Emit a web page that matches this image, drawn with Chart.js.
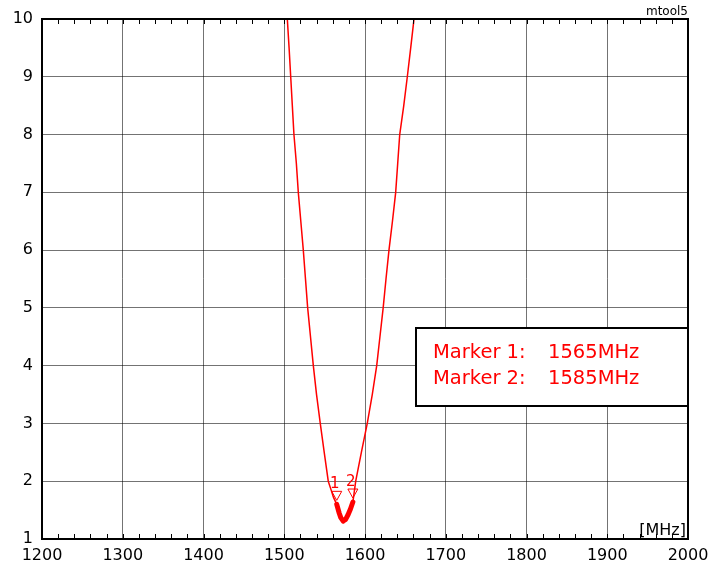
<!DOCTYPE html>
<html><head><meta charset="utf-8">
<script src="https://cdn.jsdelivr.net/npm/chart.js@4/dist/chart.umd.min.js"></script>
<style>html,body{margin:0;padding:0;background:#fff;}#c{display:block;}</style>
</head><body>
<canvas id="c" width="709" height="562"></canvas>
<script>
const freqMHz = [1500, 1503.8, 1506, 1508, 1510, 1512, 1515, 1517.4, 1520.5, 1523.6, 1526.3, 1529, 1532.5, 1536, 1540, 1544.6, 1549.5, 1554.5, 1558, 1561, 1565, 1568, 1570, 1573, 1576, 1579, 1582, 1585, 1588.5, 1595.5, 1602.8, 1609, 1614.5, 1618.5, 1622.5, 1626, 1629.7, 1634, 1638, 1640.5, 1643, 1648, 1652.4, 1656.6, 1660.7, 1664];
const vswr    = [11.0, 10.0, 9.5, 9.0, 8.5, 8.0, 7.5, 7.0, 6.5, 6.0, 5.5, 5.0, 4.5, 4.0, 3.5, 3.0, 2.5, 2.0, 1.85, 1.72, 1.60, 1.45, 1.37, 1.31, 1.34, 1.42, 1.52, 1.64, 2.0, 2.5, 3.0, 3.5, 4.0, 4.5, 5.0, 5.5, 6.0, 6.5, 7.0, 7.5, 8.0, 8.5, 9.0, 9.5, 10.0, 10.6];
const markerFreq = [1565, 1585];
const markerVswr = [1.60, 1.64];
const markerNames = ['1', '2'];
const markerTexts = ['Marker 1:', 'Marker 2:'];
const markerValues = ['1565MHz', '1585MHz'];
const xTicks = [1200, 1300, 1400, 1500, 1600, 1700, 1800, 1900, 2000];
const yTicks = [1, 2, 3, 4, 5, 6, 7, 8, 9, 10];
const xMinorStep = 20;

const FONT = '"DejaVu Sans", Verdana, sans-serif';
const mainPts = freqMHz.map((f, i) => ({x: f, y: vswr[i]}));
const bandPts = mainPts.filter(p => p.x >= markerFreq[0] && p.x <= markerFreq[1]);

const decorPlugin = {
  id: 'decor',
  afterDatasetsDraw(chart) {
    const {ctx, chartArea: a, scales: {x, y}} = chart;
    ctx.save();
    ctx.strokeStyle = '#000';
    ctx.lineWidth = 2;
    ctx.strokeRect(a.left, a.top, a.right - a.left, a.bottom - a.top);
    ctx.lineWidth = 1;
    for (let f = xTicks[0] + xMinorStep; f < xTicks[xTicks.length - 1]; f += xMinorStep) {
      const px = Math.round(x.getPixelForValue(f)) + 0.5;
      ctx.beginPath();
      ctx.moveTo(px, a.top); ctx.lineTo(px, a.top + 5);
      ctx.moveTo(px, a.bottom); ctx.lineTo(px, a.bottom - 5);
      ctx.stroke();
    }
    ctx.strokeStyle = '#ff0000';
    ctx.fillStyle = '#ff0000';
    ctx.lineWidth = 1;
    ctx.font = '15px ' + FONT;
    ctx.textAlign = 'center';
    ctx.textBaseline = 'alphabetic';
    markerFreq.forEach((f, i) => {
      const px = x.getPixelForValue(f);
      const py = y.getPixelForValue(markerVswr[i]) - 4;
      ctx.beginPath();
      ctx.moveTo(px, py);
      ctx.lineTo(px - 5, py - 9);
      ctx.lineTo(px + 5, py - 9);
      ctx.closePath();
      ctx.stroke();
      ctx.fillText(markerNames[i], px - 2, py - 12);
    });
    ctx.fillStyle = '#000';
    ctx.textAlign = 'right';
    ctx.font = '16px ' + FONT;
    ctx.fillText('[MHz]', a.right - 2, a.bottom - 4);
    ctx.font = '12px ' + FONT;
    ctx.fillText('mtool5', a.right, a.top - 4);
    const bx = 416, bw = a.right - bx, by = 328, bh = 78;
    ctx.fillStyle = '#fff';
    ctx.fillRect(bx, by, bw, bh);
    ctx.strokeStyle = '#000';
    ctx.lineWidth = 2;
    ctx.strokeRect(bx, by, bw, bh);
    ctx.fillStyle = '#ff0000';
    ctx.font = '19.5px ' + FONT;
    ctx.textAlign = 'left';
    markerTexts.forEach((t, i) => {
      const base = by + 30 + i * 26;
      ctx.fillText(t, bx + 17, base);
      ctx.fillText(markerValues[i], bx + 132, base);
    });
    ctx.restore();
  }
};

new Chart(document.getElementById('c'), {
  type: 'line',
  data: {
    datasets: [
      {data: mainPts, borderColor: '#ff0000', borderWidth: 1.5, pointRadius: 0, tension: 0, fill: false},
      {data: bandPts, borderColor: '#ff0000', borderWidth: 5, pointRadius: 0, tension: 0, fill: false, borderCapStyle: 'round', borderJoinStyle: 'round'}
    ]
  },
  options: {
    responsive: false,
    animation: false,
    devicePixelRatio: 1,
    parsing: false,
    layout: {padding: {top: 19, right: 21, left: 0, bottom: 0}},
    plugins: {legend: {display: false}, tooltip: {enabled: false}},
    scales: {
      x: {
        type: 'linear', min: 1200, max: 2000,
        afterBuildTicks: s => { s.ticks = xTicks.map(v => ({value: v})); },
        afterFit: s => { s.height = 23; s.paddingLeft = 0; s.paddingRight = 0; },
        ticks: {color: '#000', font: {family: FONT, size: 16}, padding: 7, maxRotation: 0, autoSkip: false, callback: v => String(v)},
        grid: {color: 'rgba(0,0,0,0.55)', lineWidth: 1, drawTicks: false},
        border: {color: '#000', width: 2}
      },
      y: {
        type: 'linear', min: 1, max: 10,
        afterBuildTicks: s => { s.ticks = yTicks.map(v => ({value: v})); },
        afterFit: s => { s.width = 42; s.paddingTop = 0; s.paddingBottom = 0; },
        ticks: {color: '#000', font: {family: FONT, size: 16}, padding: 9, autoSkip: false, callback: v => String(v)},
        grid: {color: 'rgba(0,0,0,0.55)', lineWidth: 1, drawTicks: false},
        border: {color: '#000', width: 2}
      }
    }
  },
  plugins: [decorPlugin]
});
</script>
</body></html>
